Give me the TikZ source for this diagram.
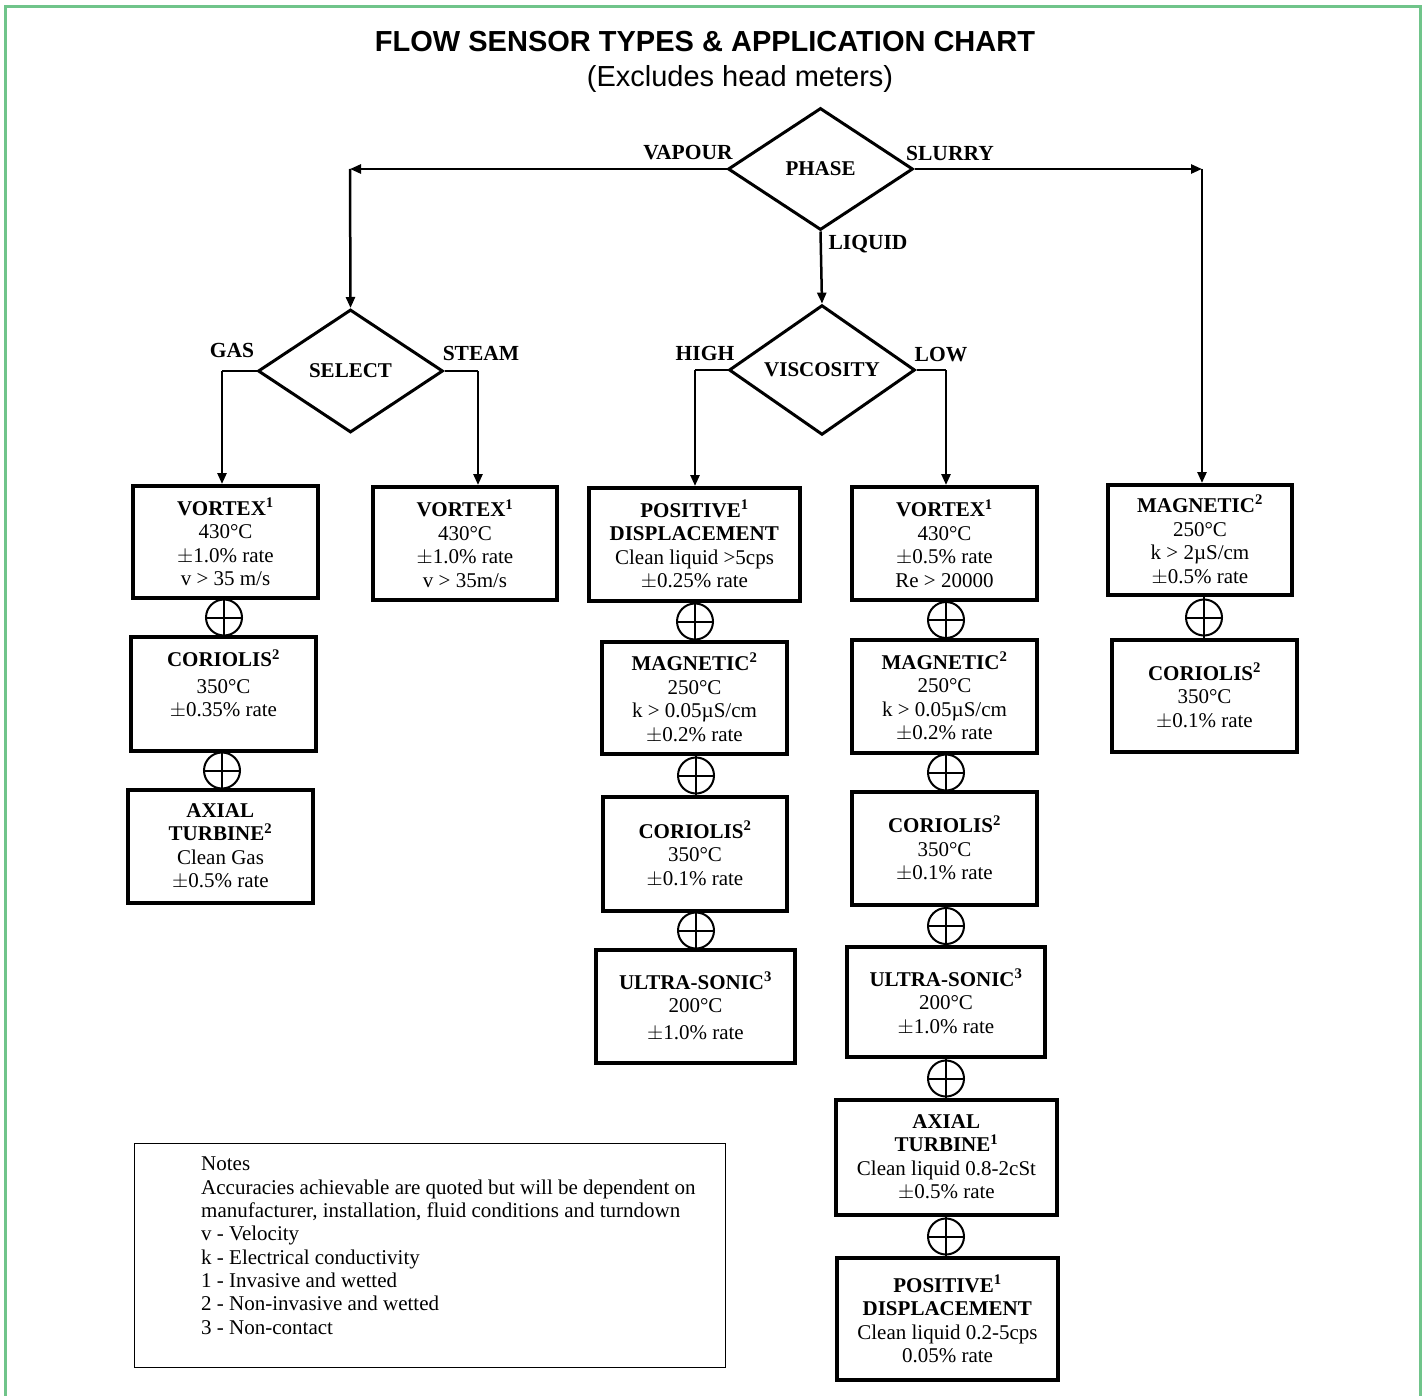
\documentclass[tikz,border=0pt]{standalone}
\usepackage{fontspec}
\setmainfont{Liberation Serif}
\newfontfamily\titlefont{Liberation Sans}
\usetikzlibrary{shapes.geometric,arrows.meta}
\definecolor{framegreen}{RGB}{112,196,138}
\tikzset{
  sbox/.style={draw, line width=4pt, inner sep=0pt, align=center,
    font=\fontsize{21}{23.5}\selectfont},
  dbox/.style={draw, diamond, line width=3pt, inner sep=0pt,
    font=\bfseries\fontsize{21}{24}\selectfont},
  plusc/.style={draw, circle, line width=2pt, minimum size=36pt, inner sep=0pt,
    path picture={\draw[line width=2pt] (path picture bounding box.west) -- (path picture bounding box.east);}},
  conn/.style={line width=2.5pt},
  arr/.style={line width=2.5pt, -{Triangle[length=11pt,width=9pt]}},
  lbl/.style={inner sep=0pt, font=\bfseries\fontsize{21.5}{24}\selectfont}
}
\newcommand{\hd}[2]{\textbf{\fontsize{21}{23.5}\selectfont #1\textsuperscript{#2}}}
\begin{document}
\begin{tikzpicture}[x=1pt,y=-1pt]
\useasboundingbox (0,0) rectangle (1426,1396);
\draw[framegreen, line width=3pt] (5,1420) -- (5,7) -- (1420,7) -- (1420,1420);

% title
\node[inner sep=0pt, font=\titlefont\bfseries\fontsize{29}{32}\selectfont] (title) at (705,42) {FLOW SENSOR TYPES \& APPLICATION CHART};
\node[inner sep=0pt, font=\titlefont\fontsize{29}{32}\selectfont] (subtitle) at (740,79) {(Excludes head meters)};

% diamonds
\node[dbox, minimum width=185pt, minimum height=122pt] (phase) at (820.5,169) {PHASE};
\node[dbox, minimum width=185pt, minimum height=123pt] (select) at (350.5,371) {SELECT};
\node[dbox, minimum width=186pt, minimum height=124pt] (visc) at (822,370) {VISCOSITY};

% column A (gas)
\node[sbox, minimum width=185pt, minimum height=112pt] (A1) at (225.5,542) {\hd{VORTEX}{1}\\430\textdegree C\\$\pm$1.0\% rate\\v > 35 m/s};
\node[sbox, minimum width=185pt, minimum height=114pt] (A2) at (223.5,694) {\hd{CORIOLIS}{2}\\[3pt]350\textdegree C\\$\pm$0.35\% rate\\[-2pt]};
\node[sbox, minimum width=185pt, minimum height=113pt] (A3) at (220.5,846.5) {\hd{AXIAL}{}\\\hd{TURBINE}{2}\\Clean Gas\\$\pm$0.5\% rate};
% column B (steam)
\node[sbox, minimum width=184pt, minimum height=113pt] (B1) at (465,543.5) {\hd{VORTEX}{1}\\430\textdegree C\\$\pm$1.0\% rate\\v > 35m/s};
% column C (high)
\node[sbox, minimum width=211pt, minimum height=113pt] (C1) at (694.5,544.5) {\hd{POSITIVE}{1}\\\hd{DISPLACEMENT}{}\\Clean liquid >5cps\\$\pm$0.25\% rate};
\node[sbox, minimum width=185pt, minimum height=112pt] (C2) at (694.5,698) {\hd{MAGNETIC}{2}\\250\textdegree C\\k > 0.05µS/cm\\$\pm$0.2\% rate};
\node[sbox, minimum width=184pt, minimum height=114pt] (C3) at (695,854) {\hd{CORIOLIS}{2}\\350\textdegree C\\$\pm$0.1\% rate};
\node[sbox, minimum width=199pt, minimum height=113pt] (C4) at (695.5,1006.5) {\hd{ULTRA-SONIC}{3}\\200\textdegree C\\[3pt]$\pm$1.0\% rate};
% column D (low)
\node[sbox, minimum width=185pt, minimum height=113pt] (D1) at (944.5,543.5) {\hd{VORTEX}{1}\\430\textdegree C\\$\pm$0.5\% rate\\Re > 20000};
\node[sbox, minimum width=185pt, minimum height=113pt] (D2) at (944.5,696.5) {\hd{MAGNETIC}{2}\\250\textdegree C\\k > 0.05µS/cm\\$\pm$0.2\% rate};
\node[sbox, minimum width=185pt, minimum height=113pt] (D3) at (944.5,848.5) {\hd{CORIOLIS}{2}\\350\textdegree C\\$\pm$0.1\% rate};
\node[sbox, minimum width=198pt, minimum height=110pt] (D4) at (946,1002) {\hd{ULTRA-SONIC}{3}\\200\textdegree C\\$\pm$1.0\% rate};
\node[sbox, minimum width=221pt, minimum height=115pt] (D5) at (946.5,1157.5) {\hd{AXIAL}{}\\\hd{TURBINE}{1}\\Clean liquid 0.8-2cSt\\$\pm$0.5\% rate};
\node[sbox, minimum width=221pt, minimum height=122pt] (D6) at (947.5,1319) {\hd{POSITIVE}{1}\\\hd{DISPLACEMENT}{}\\Clean liquid 0.2-5cps\\0.05\% rate};
% column E (slurry)
\node[sbox, minimum width=184pt, minimum height=110pt] (E1) at (1200,540) {\hd{MAGNETIC}{2}\\250\textdegree C\\k > 2µS/cm\\$\pm$0.5\% rate};
\node[sbox, minimum width=185pt, minimum height=112pt] (E2) at (1204.5,696) {\hd{CORIOLIS}{2}\\350\textdegree C\\$\pm$0.1\% rate};

% combining symbols
\node[plusc] (pA1) at (224,617.5) {};
\node[plusc] (pA2) at (222,770.5) {};
\node[plusc] (pC1) at (695,621.5) {};
\node[plusc] (pC2) at (696,775.5) {};
\node[plusc] (pC3) at (696,930.5) {};
\node[plusc] (pD1) at (946,620) {};
\node[plusc] (pD2) at (946,772.5) {};
\node[plusc] (pD3) at (946,926) {};
\node[plusc] (pD4) at (946,1078.5) {};
\node[plusc] (pD5) at (946,1236.5) {};
\node[plusc] (pE1) at (1204,617.5) {};
\foreach \p/\a/\b in {pA1/A1/A2, pA2/A2/A3, pC1/C1/C2, pC2/C2/C3, pC3/C3/C4,
  pD1/D1/D2, pD2/D2/D3, pD3/D3/D4, pD4/D4/D5, pD5/D5/D6, pE1/E1/E2}
  \draw[line width=2pt] (\p |- \a.south) -- (\p |- \b.north);

% connectors
\coordinate (vcorner) at (350,169);
\coordinate (scorner) at (1202,169);
\draw[arr] (phase.west) -- (vcorner);
\draw[arr] (vcorner) -- (select.north);
\draw[arr] (phase.east) -- (scorner);
\draw[arr] (scorner) -- (scorner |- E1.north);
\draw[arr] (phase.south) -- (visc.north);
\coordinate (gascorner) at (222,371);
\coordinate (steamcorner) at (478,371);
\coordinate (highcorner) at (695,370);
\coordinate (lowcorner) at (946,370);
\draw[conn] (select.west) -- (gascorner);
\draw[arr] (gascorner) -- (gascorner |- A1.north);
\draw[conn] (select.east) -- (steamcorner);
\draw[arr] (steamcorner) -- (steamcorner |- B1.north);
\draw[conn] (visc.west) -- (highcorner);
\draw[arr] (highcorner) -- (highcorner |- C1.north);
\draw[conn] (visc.east) -- (lowcorner);
\draw[arr] (lowcorner) -- (lowcorner |- D1.north);

% branch labels
\node[lbl] (lvapour) at (688,153) {VAPOUR};
\node[lbl] (lslurry) at (950,153) {SLURRY};
\node[lbl] (lliquid) at (868,244) {LIQUID};
\node[lbl] (lgas) at (232,350) {GAS};
\node[lbl] (lsteam) at (481,353) {STEAM};
\node[lbl] (lhigh) at (705,353) {HIGH};
\node[lbl] (llow) at (941,355) {LOW};

% notes
\node[draw, line width=1.3pt, minimum width=591pt, minimum height=224pt, anchor=north west, inner sep=0pt] (notesbox) at (134,1143) {};
\node[anchor=north west, inner sep=0pt, align=left, font=\fontsize{21}{23.3}\selectfont] (notes) at (201,1157) {Notes\\Accuracies achievable are quoted but will be dependent on\\manufacturer, installation, fluid conditions and turndown\\v - Velocity\\k - Electrical conductivity\\1 - Invasive and wetted\\2 - Non-invasive and wetted\\3 - Non-contact};
\end{tikzpicture}
\end{document}
